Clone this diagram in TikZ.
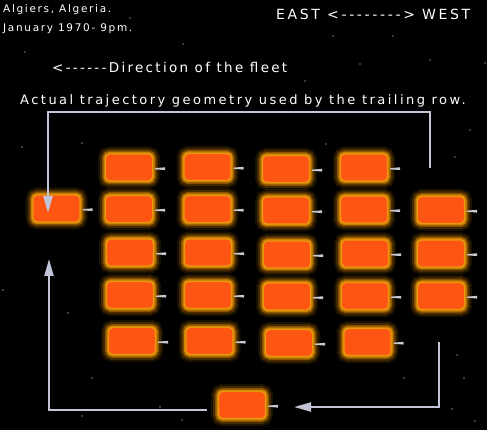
\documentclass[tikz,border=0pt]{standalone}
\usepackage{fontspec}
\newfontfamily\bigtxt[LetterSpace=19]{DejaVu Sans}
\newfontfamily\midtxt[LetterSpace=17]{DejaVu Sans}
\newfontfamily\smalltxt[LetterSpace=16]{DejaVu Sans}
\usetikzlibrary{arrows.meta}
\definecolor{boxfill}{HTML}{FF5512}
\definecolor{boxedge}{HTML}{E89A10}
\definecolor{glowc}{HTML}{FFA000}
\definecolor{linec}{HTML}{C2C5D8}
\definecolor{tickc}{HTML}{C8C8D2}
\begin{document}
\begin{tikzpicture}[x=1pt,y=-1pt,
  craft/.style={rectangle, rounded corners=4pt, minimum width=47pt, minimum height=27pt, inner sep=0pt,
    fill=boxfill, draw=boxedge, line width=1.3pt,
    preaction={draw=glowc, line width=15pt, draw opacity=0.10},
    preaction={draw=glowc, line width=11pt, draw opacity=0.18},
    preaction={draw=glowc, line width=7pt, draw opacity=0.35},
    preaction={draw=glowc, line width=4pt, draw opacity=0.6}},
  conn/.style={draw=linec, line width=2pt},
  head/.style={-{Triangle[length=17pt,width=9pt]}},
  exhaust/.style={fill=tickc},
  lab/.style={text=white, inner sep=0pt, anchor=base west},
  star/.style={fill=white}]
\fill[black] (0,0) rectangle (487,430);
\useasboundingbox (0,0) rectangle (487,430);
% stars
\foreach \sx/\sy in {130/18,183/44,333/36,393/36,25/52,305/81,360/64,430/60,485/63,82/143,22/147,326/144,455/157,457/355,404/378,464/378,452/409,475/421,68/313,92/378,82/416,160/407,182/420,3/290,470/130}
  \fill[star] (\sx,\sy) circle (0.7);
% texts
\node[lab, font=\smalltxt\fontsize{10.5}{12}\selectfont] (t1) at (3,13) {Algiers, Algeria.};
\node[lab, font=\smalltxt\fontsize{10.5}{12}\selectfont] (t2) at (3,32) {January 1970- 9pm.};
\node[lab, font=\bigtxt\fontsize{14}{16}\selectfont] (t3) at (276,19.5) {EAST <--------> WEST};
\node[lab, font=\midtxt\fontsize{13.5}{16}\selectfont] (t4) at (52,73) {<------Direction of the fleet};
\node[lab, font=\bigtxt\fontsize{13}{16}\selectfont] (t5) at (20,105) {Actual trajectory geometry used by the trailing row.};
% crafts
\foreach \n/\cx/\cy in {
  a1/129/167.5, a2/207.5/167, a3/286/169, a4/364/167.5,
  b1/129/209, b2/207.5/209, b3/286/210.5, b4/364/209.5, b5/441/210,
  c1/130/252.5, c2/208/252.5, c3/287/254.5, c4/365/253.5, c5/441/253.5,
  d1/130/295, d2/208/295, d3/287/296.5, d4/365/296, d5/441/296,
  e1/132/341, e2/209.5/341, e3/289/343, e4/367.5/342,
  lb/56.5/208.5, bb/242/405} {
  \node[craft] (\n) at (\cx,\cy) {};
  \fill[exhaust] ([xshift=2pt,yshift=-0.6pt]\n.east) -- ++(10,-0.8) -- ++(0,2.8) -- ++(-10,-0.8) -- cycle;
}
% connectors
\coordinate (ts) at (430,168);
\coordinate (tl) at (48,112);
\coordinate (tt) at (48,213);
\draw[conn, head] (ts) |- (tl) -- (tt);
\coordinate (rs) at (439,342);
\coordinate (rt) at (294,407);
\draw[conn, head] (rs) |- (rt);
\coordinate (ls) at (207,410);
\coordinate (lt) at (49,259);
\draw[conn, head] (ls) -| (lt);
\end{tikzpicture}
\end{document}
